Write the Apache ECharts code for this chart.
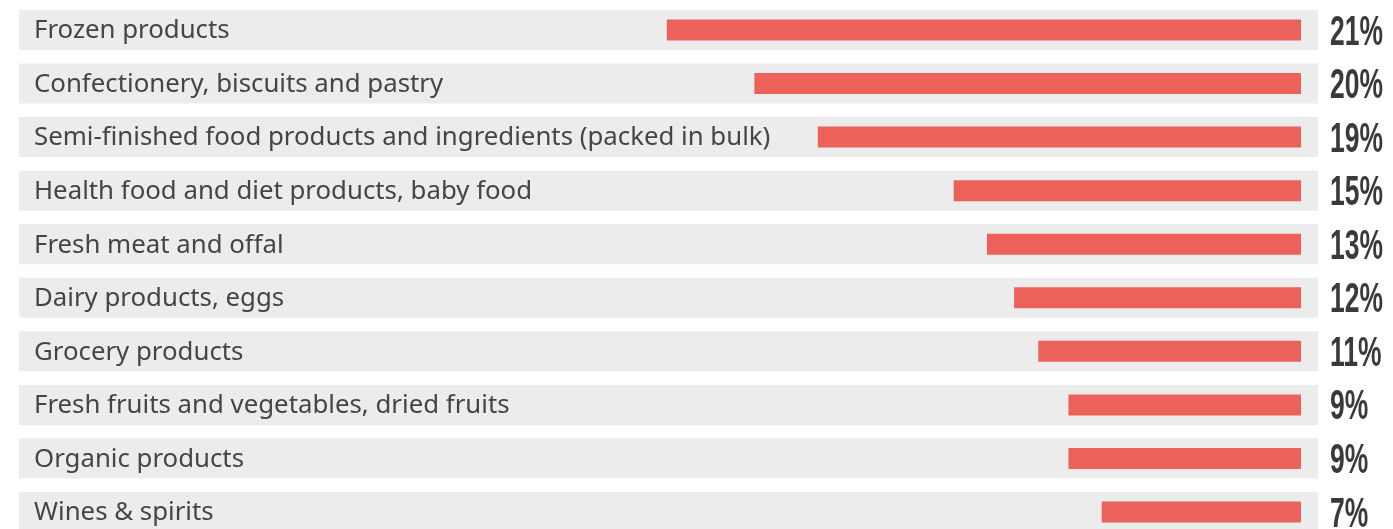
<!DOCTYPE html>
<html>
<head>
<meta charset="utf-8">
<script src="https://cdn.jsdelivr.net/npm/echarts@6/dist/echarts.min.js"></script>
<style>
html,body{margin:0;padding:0;background:#fff;overflow:hidden;}
#chart{width:1393px;height:560px;}
</style>
</head>
<body>
<div id="chart"></div>
<script>
const categories = [
  'Frozen products',
  'Confectionery, biscuits and pastry',
  'Semi-finished food products and ingredients (packed in bulk)',
  'Health food and diet products, baby food',
  'Fresh meat and offal',
  'Dairy products, eggs',
  'Grocery products',
  'Fresh fruits and vegetables, dried fruits',
  'Organic products',
  'Wines & spirits'
];
// bar lengths as drawn in the reference (in % units of the top bar's scale)
const barValues = [21.0, 18.1, 16.0, 11.5, 10.4, 9.5, 8.7, 7.7, 7.7, 6.6];
// printed labels
const shareLabels = ['21%', '20%', '19%', '15%', '13%', '12%', '11%', '9%', '9%', '7%'];
const bandValues = categories.map(() => 1);

const chart = echarts.init(document.getElementById('chart'));
const gridTop = 3.2, gridHeight = 535.6;
const axisMax = 42.45; // grid width 1282px -> 30.2px per unit

chart.setOption({
  animation: false,
  grid: [
    { left: 19, right: 75, top: gridTop, height: gridHeight },
    { left: 19, right: 92, top: gridTop, height: gridHeight }
  ],
  xAxis: [
    { gridIndex: 0, type: 'value', min: 0, max: 1, show: false },
    { gridIndex: 1, type: 'value', min: 0, max: axisMax, inverse: true, show: false }
  ],
  yAxis: [
    { gridIndex: 0, type: 'category', data: categories, inverse: true, show: false },
    { gridIndex: 1, type: 'category', data: categories, inverse: true, show: false }
  ],
  series: [
    {
      type: 'bar', xAxisIndex: 0, yAxisIndex: 0, data: bandValues, barWidth: 40,
      itemStyle: { color: '#ececec' }, silent: true,
      label: {
        show: true, position: 'insideLeft', distance: 15, offset: [0, 1],
        formatter: p => categories[p.dataIndex],
        fontFamily: 'Noto Sans', fontSize: 25.8, color: '#454545'
      }
    },
    {
      type: 'bar', xAxisIndex: 1, yAxisIndex: 1, data: barValues, barWidth: 21,
      itemStyle: { color: '#ec615a' }
    },
    {
      type: 'custom', xAxisIndex: 1, yAxisIndex: 1,
      data: barValues.map((v, i) => [0, i]),
      renderItem: function (params, api) {
        const pt = api.coord([0, api.value(1)]);
        return {
          type: 'text',
          x: pt[0] + 29, y: pt[1] + 3,
          scaleX: 0.63, scaleY: 1,
          style: {
            text: shareLabels[params.dataIndex],
            x: 0, y: 0,
            font: 'bold 42px "Liberation Sans"',
            fill: '#3a3a3a',
            align: 'left', verticalAlign: 'middle'
          }
        };
      }
    }
  ]
});
</script>
</body>
</html>
